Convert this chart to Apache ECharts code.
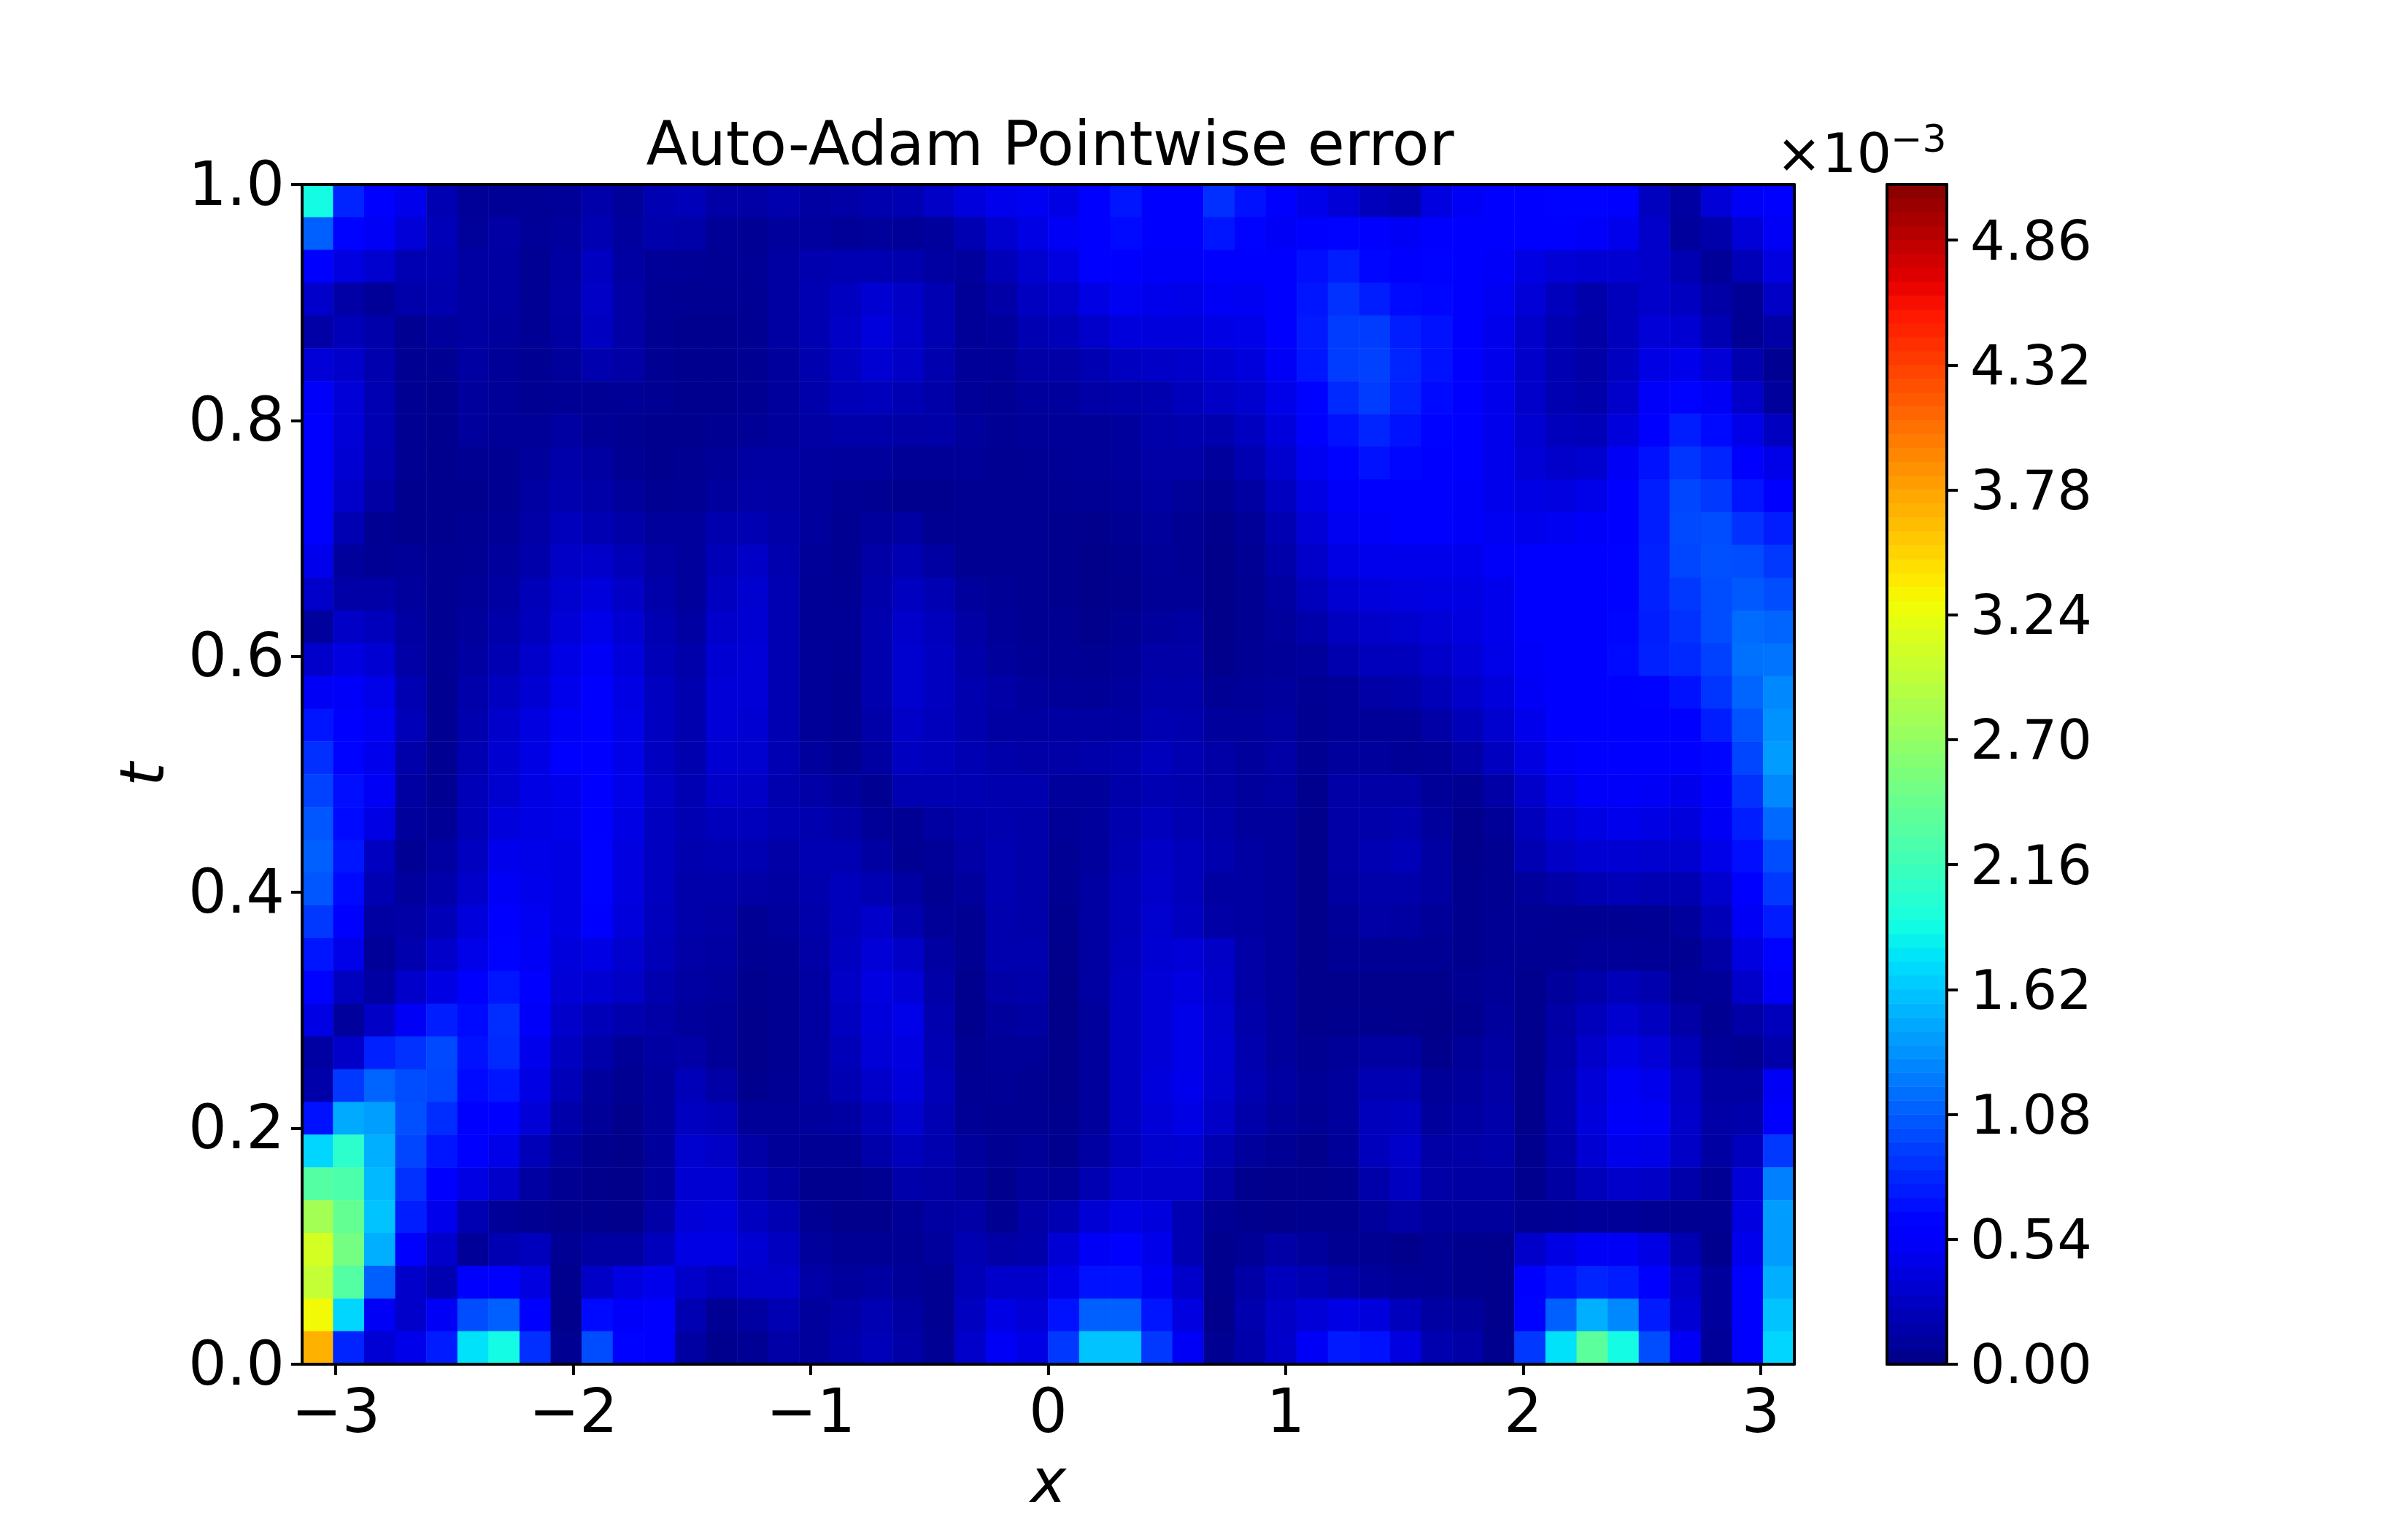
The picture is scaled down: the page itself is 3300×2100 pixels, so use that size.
<!DOCTYPE html>
<html>
<head>
<meta charset="utf-8">
<style>html,body{margin:0;background:#fff}#chart{width:3300px;height:2100px}</style>
<script src="https://cdn.jsdelivr.net/npm/echarts@6/dist/echarts.min.js"></script>
</head>
<body>
<div id="chart"></div>
<script>
// pointwise error, in 1e-5, top row is t=1, left column is x=-pi
var errorRows = [
[190,80,56,46,20,8,7,7,8,16,9,20,22,14,14,18,12,14,18,20,28,38,46,48,42,56,72,56,60,85,70,54,44,36,24,20,40,50,55,60,62,62,56,25,12,36,50,58],
[110,62,50,36,22,9,13,8,10,20,11,17,15,7,6,10,11,8,9,8,10,20,32,42,50,58,66,56,58,72,62,50,60,62,54,50,56,55,55,55,56,52,46,30,10,16,36,50],
[60,40,32,20,20,12,12,6,12,26,12,8,7,6,7,12,18,20,20,18,12,10,22,32,40,54,58,52,52,60,56,54,68,76,64,60,62,56,52,42,36,34,34,30,20,8,22,40],
[30,14,8,16,18,12,12,6,13,28,14,6,5,5,6,12,20,26,34,28,20,8,14,26,30,42,48,46,44,50,48,54,72,86,76,66,64,56,48,36,24,16,24,30,26,14,7,28],
[14,22,16,5,10,12,10,6,12,26,14,5,4,4,5,12,20,28,38,30,20,8,10,20,22,30,38,38,38,42,44,54,74,92,92,76,70,58,46,30,20,14,24,36,34,20,6,14],
[36,30,18,5,5,12,8,5,9,18,14,5,4,4,5,10,18,26,34,28,18,8,8,14,14,20,26,28,30,34,38,50,72,92,94,80,70,58,46,30,20,14,26,42,46,36,18,5],
[52,36,20,5,4,10,8,5,6,6,7,5,4,4,5,10,16,22,24,20,15,8,6,10,10,14,16,18,24,28,32,44,62,82,92,78,66,58,46,30,20,16,30,52,62,50,30,10],
[58,36,20,5,4,10,8,8,12,7,5,4,4,5,7,10,13,16,16,14,15,10,6,8,8,8,10,16,18,18,26,38,54,70,80,70,62,56,46,34,24,22,38,60,76,66,44,26],
[60,34,18,5,4,5,5,10,16,12,6,4,5,8,12,12,11,10,10,7,7,8,5,6,7,8,10,14,14,10,20,32,48,62,70,64,60,54,46,36,30,32,50,70,88,80,60,44],
[60,30,13,4,4,4,5,12,18,15,10,5,6,11,14,13,10,6,5,4,4,5,5,5,5,6,8,12,9,6,12,26,42,52,58,58,56,52,46,42,40,44,56,76,96,90,72,58],
[56,20,5,4,4,5,7,14,24,20,15,10,10,18,20,15,10,5,10,12,5,5,5,5,4,3,5,10,6,3,8,20,36,48,52,54,54,52,48,46,48,52,60,76,98,100,86,76],
[46,10,6,8,5,6,10,16,28,30,22,13,10,22,28,18,8,5,14,20,12,5,5,5,4,2,4,8,6,2,6,16,30,42,46,46,46,46,52,54,54,56,62,78,96,102,100,90],
[30,14,14,10,5,8,12,22,32,38,28,16,10,26,32,20,7,6,16,26,20,10,7,5,4,2,3,7,7,2,5,12,24,34,38,40,42,42,46,54,58,58,62,78,90,100,106,100],
[10,28,24,12,5,10,16,24,36,44,34,20,12,30,34,20,7,7,18,30,24,13,8,5,5,3,5,10,12,2,5,10,16,26,30,32,36,40,46,54,60,60,64,76,86,100,116,112],
[30,40,34,14,6,12,20,30,42,50,38,22,16,34,36,20,8,6,18,32,26,16,10,7,6,5,8,14,14,3,6,8,10,18,24,24,30,36,44,52,58,60,66,78,82,94,118,120],
[50,52,44,20,5,16,26,34,46,56,42,26,18,36,36,20,8,5,18,32,26,18,14,10,8,7,10,16,16,6,8,10,6,8,14,16,22,30,38,50,56,58,60,62,70,88,112,130],
[72,60,48,22,5,18,30,40,50,60,44,26,18,36,34,20,8,5,15,28,24,18,12,12,12,12,12,20,18,10,10,12,5,8,8,8,14,22,32,46,54,58,58,58,60,76,104,135],
[85,62,46,16,5,20,33,42,54,60,44,26,18,34,32,20,10,5,12,26,24,20,16,14,14,16,18,24,20,14,10,14,5,10,10,7,8,14,26,40,52,56,58,56,54,64,96,140],
[95,68,50,12,5,22,32,42,46,60,44,28,20,30,28,18,14,10,5,20,20,20,18,18,10,10,16,20,18,14,10,12,4,14,14,14,8,5,14,30,44,52,52,50,46,58,86,130],
[105,66,42,10,7,22,38,42,44,60,42,26,20,24,24,20,18,14,8,6,12,16,18,16,8,10,18,24,20,16,10,10,3,14,16,18,10,3,8,24,36,42,46,42,38,50,76,115],
[110,72,26,6,12,26,46,44,42,62,40,26,18,20,20,14,20,20,12,5,8,14,20,16,6,10,20,28,24,18,12,10,3,14,20,22,12,3,5,20,28,34,34,32,32,44,68,100],
[105,66,20,10,16,30,50,46,42,62,40,26,16,16,14,12,18,24,20,12,5,10,20,16,5,12,22,30,24,12,12,10,3,12,16,16,12,4,5,10,14,20,22,20,20,32,60,90],
[90,56,12,14,22,38,54,48,42,60,38,24,16,14,6,10,16,24,30,18,8,5,18,16,4,12,22,32,26,14,12,10,3,8,14,12,8,4,6,6,5,5,5,6,10,22,50,75],
[72,44,8,18,30,44,62,50,38,42,32,22,14,12,5,6,14,26,36,28,12,5,18,18,3,12,24,34,36,28,14,10,3,6,6,6,6,4,6,5,5,8,8,7,5,14,40,62],
[62,25,12,30,42,54,72,54,36,34,28,18,12,10,4,5,12,28,40,36,15,4,14,16,2,12,26,36,40,30,14,10,3,3,3,3,3,5,8,4,10,16,22,18,7,8,30,52],
[42,10,28,50,76,66,84,52,30,22,18,14,10,8,3,5,12,26,38,44,18,4,10,12,2,10,26,36,44,32,16,10,3,4,4,3,2,4,10,4,14,24,32,26,14,5,14,24],
[12,30,78,86,98,70,82,46,26,16,8,12,14,8,3,5,12,22,36,40,20,5,8,8,3,10,26,36,44,34,18,10,5,8,12,12,3,8,12,3,16,30,42,36,22,8,5,16],
[16,90,112,100,96,66,72,42,22,10,5,10,22,14,4,6,12,20,30,38,22,6,7,5,3,10,26,38,46,32,20,12,7,10,20,20,8,10,14,3,18,36,50,46,28,12,12,50],
[70,148,142,102,84,60,60,36,16,8,3,10,26,22,8,8,10,12,22,32,20,7,5,5,4,10,26,36,42,28,16,10,6,10,24,26,10,12,16,3,18,38,52,50,30,14,16,58],
[170,205,150,96,72,54,44,22,10,4,2,10,32,28,14,8,6,6,16,24,18,10,5,8,4,12,24,32,34,20,10,6,3,8,24,30,14,14,16,4,16,34,46,44,28,12,24,90],
[230,225,155,86,60,42,30,12,5,3,2,10,34,34,20,12,4,4,5,16,14,10,4,10,8,20,30,30,30,14,4,3,3,4,16,26,14,12,12,4,12,24,30,28,16,6,36,126],
[280,240,160,76,46,20,8,5,3,4,3,14,36,38,26,20,6,3,3,7,12,14,5,14,20,35,42,38,20,6,4,3,4,4,10,14,10,10,10,5,6,8,8,6,5,5,40,140],
[310,250,150,60,30,8,20,24,6,12,12,24,42,42,34,26,10,6,6,6,10,20,14,16,35,50,54,45,20,4,7,14,10,5,5,3,6,4,3,30,42,50,50,42,20,4,46,140],
[300,230,110,30,20,55,60,40,4,28,40,46,30,24,30,30,14,10,12,8,5,22,30,30,44,70,70,50,30,4,14,24,20,14,10,7,6,4,3,55,70,80,75,56,30,10,54,150],
[330,170,50,30,50,100,110,60,3,66,52,54,20,6,12,20,10,14,20,12,5,26,42,36,70,110,110,72,40,3,18,28,36,42,38,24,12,10,3,62,110,150,130,75,35,10,60,160],
[370,80,35,45,75,175,190,85,5,100,62,56,12,4,6,14,10,16,22,14,6,30,50,42,90,160,160,90,50,5,16,30,50,74,70,40,18,14,4,90,175,235,190,100,50,8,56,170]
];
var xRange = [-Math.PI, Math.PI];
var xTicks = [-3, -2, -1, 0, 1, 2, 3];
var tTicks = [0, 0.2, 0.4, 0.6, 0.8, 1];
var barTicks = [0, 0.54, 1.08, 1.62, 2.16, 2.7, 3.24, 3.78, 4.32, 4.86];
var barLevels = 85;
var barStep = 0.06;
var barMax = barLevels * barStep;

// jet colormap of matplotlib
function ramp(t, pts) {
	for (var i = 1; i < pts.length; i++) {
		if (t <= pts[i][0]) {
			return pts[i - 1][1] + (pts[i][1] - pts[i - 1][1]) * (t - pts[i - 1][0]) / (pts[i][0] - pts[i - 1][0]);
		}
	}
	return pts[pts.length - 1][1];
}
function jet(t) {
	var r = ramp(t, [[0, 0], [0.35, 0], [0.66, 1], [0.89, 1], [1, 0.5]]);
	var g = ramp(t, [[0, 0], [0.125, 0], [0.375, 1], [0.64, 1], [0.91, 0], [1, 0]]);
	var b = ramp(t, [[0, 0.5], [0.11, 1], [0.34, 1], [0.65, 0], [1, 0]]);
	return 'rgb(' + Math.round(r * 255) + ',' + Math.round(g * 255) + ',' + Math.round(b * 255) + ')';
}
var jetColors = [];
for (var i = 0; i < barLevels; i++) {
	jetColors.push(jet((i + 0.5) / barLevels));
}

var rowCount = errorRows.length;
var colCount = errorRows[0].length;
var colNames = [], rowNames = [], fieldData = [];
for (var c = 0; c < colCount; c++) { colNames.push(String(c)); }
for (var r = 0; r < rowCount; r++) { rowNames.push(String(r)); }
for (var j = 0; j < rowCount; j++) {
	for (var k = 0; k < colCount; k++) {
		fieldData.push([k, rowCount - 1 - j, errorRows[j][k] / 100]);
	}
}
var barNames = [], barData = [];
for (var n = 0; n < barLevels; n++) {
	barNames.push(String(n));
	barData.push([0, n, (n + 0.5) * barStep]);
}

var fontName = 'DejaVu Sans';
var edge = { show: true, onZero: false, lineStyle: { color: '#000', width: 4 } };
var tickStyle = { show: true, length: 15, lineStyle: { color: '#000', width: 4 } };

function hiddenCat(grid, names) {
	return { type: 'category', gridIndex: grid, data: names, show: false };
}
// frame line only, for the sides that have no ticks
function frameAxis(grid, pos, range) {
	return {
		type: 'value', gridIndex: grid, position: pos, min: range[0], max: range[1], z: 6,
		axisLine: edge, axisTick: { show: false }, axisLabel: { show: false }, splitLine: { show: false }
	};
}

var chart = echarts.init(document.getElementById('chart'), null, { renderer: 'canvas' });
chart.setOption({
	animation: false,
	backgroundColor: '#fff',
	title: [
		{ text: 'Auto-Adam Pointwise error', left: 1434, top: 158, textAlign: 'center', textStyle: { fontFamily: fontName, fontSize: 83, fontWeight: 'normal', color: '#000' } },
		{ text: '×10', left: 2429, top: 174, textStyle: { fontFamily: fontName, fontSize: 75, fontWeight: 'normal', color: '#000' } },
		{ text: '−3', left: 2586, top: 163, textStyle: { fontFamily: fontName, fontSize: 52, fontWeight: 'normal', color: '#000' } }
	],
	grid: [
		{ left: 414, top: 253, width: 2045, height: 1617 },
		{ left: 2586, top: 253, width: 82, height: 1617 }
	],
	visualMap: {
		show: false, type: 'continuous', min: 0, max: barMax, dimension: 2, seriesIndex: [0, 1],
		inRange: { color: jetColors }
	},
	xAxis: [
		hiddenCat(0, colNames),
		{
			type: 'value', gridIndex: 0, position: 'bottom', min: xRange[0], max: xRange[1], z: 6,
			name: 'x', nameLocation: 'middle', nameGap: 126,
			nameTextStyle: { fontFamily: fontName, fontSize: 83, fontStyle: 'italic', color: '#000' },
			axisLine: edge,
			axisTick: Object.assign({ customValues: xTicks }, tickStyle),
			axisLabel: {
				customValues: xTicks, margin: 30, fontFamily: fontName, fontSize: 83, color: '#000',
				formatter: function(v) { return String(v).replace('-', '\u2212'); }
			},
			splitLine: { show: false }
		},
		frameAxis(0, 'top', xRange),
		hiddenCat(1, ['0']),
		frameAxis(1, 'bottom', [0, 1]),
		frameAxis(1, 'top', [0, 1])
	],
	yAxis: [
		hiddenCat(0, rowNames),
		{
			type: 'value', gridIndex: 0, position: 'left', min: 0, max: 1, z: 6,
			name: 't', nameLocation: 'middle', nameGap: 170,
			nameTextStyle: { fontFamily: fontName, fontSize: 83, fontStyle: 'italic', color: '#000' },
			axisLine: edge,
			axisTick: Object.assign({ customValues: tTicks }, tickStyle),
			axisLabel: {
				customValues: tTicks, margin: 24, verticalAlign: 'top', lineHeight: 12, fontFamily: fontName, fontSize: 83, color: '#000',
				formatter: function(v) { return v.toFixed(1); }
			},
			splitLine: { show: false }
		},
		frameAxis(0, 'right', [0, 1]),
		hiddenCat(1, barNames),
		{
			type: 'value', gridIndex: 1, position: 'right', min: 0, max: barMax, z: 6,
			axisLine: edge,
			axisTick: Object.assign({ customValues: barTicks }, tickStyle),
			axisLabel: {
				customValues: barTicks, margin: 32, verticalAlign: 'top', lineHeight: 14, fontFamily: fontName, fontSize: 75, color: '#000',
				formatter: function(v) { return v.toFixed(2); }
			},
			splitLine: { show: false }
		},
		frameAxis(1, 'left', [0, barMax])
	],
	series: [
		{ type: 'heatmap', xAxisIndex: 0, yAxisIndex: 0, data: fieldData, progressive: 0, emphasis: { disabled: true } },
		{ type: 'heatmap', xAxisIndex: 3, yAxisIndex: 3, data: barData, progressive: 0, emphasis: { disabled: true } }
	]
});
</script>
</body>
</html>
